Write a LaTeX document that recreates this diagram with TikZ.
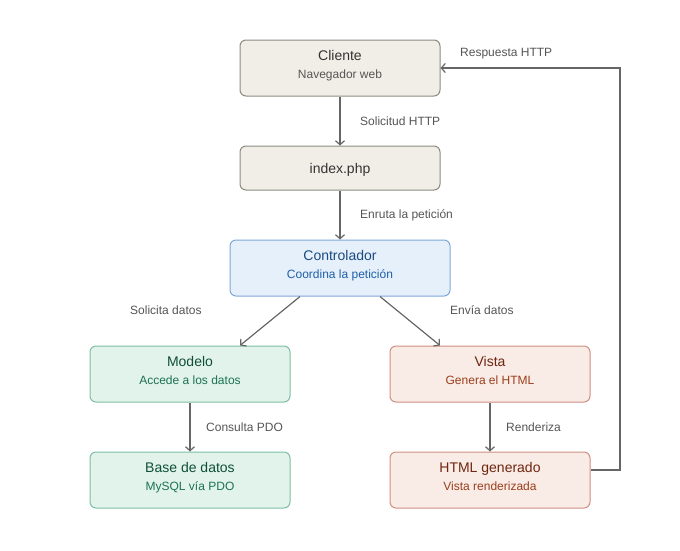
\documentclass[tikz,border=0pt]{standalone}
\usepackage{fontspec}
\setmainfont{Liberation Sans}
\usepackage{xcolor}
\usetikzlibrary{positioning,arrows.meta}
\definecolor{greybg}{HTML}{F1EEE7}
\definecolor{greyln}{HTML}{8C8A80}
\definecolor{greytx}{HTML}{333333}
\definecolor{greysub}{HTML}{555555}
\definecolor{bluebg}{HTML}{E5F0FB}
\definecolor{blueln}{HTML}{7EA7D8}
\definecolor{bluetx}{HTML}{1A4A82}
\definecolor{bluesub}{HTML}{1F5FA8}
\definecolor{greenbg}{HTML}{E2F3EC}
\definecolor{greenln}{HTML}{7DBEA2}
\definecolor{greentx}{HTML}{0E4F38}
\definecolor{greensub}{HTML}{1B7350}
\definecolor{redbg}{HTML}{F9EBE6}
\definecolor{redln}{HTML}{CF9080}
\definecolor{redtx}{HTML}{70260F}
\definecolor{redsub}{HTML}{9C3E1C}
\definecolor{wire}{HTML}{666666}
\newcommand{\boxtitle}[2]{{\fontsize{14}{18}\selectfont\color{#1}#2}}
\newcommand{\boxsub}[2]{{\fontsize{12}{14}\selectfont\color{#1}#2\rule[-7pt]{0pt}{0pt}}}

\begin{document}
\begin{tikzpicture}[x=1pt, y=-1pt, >={Straight Barb[length=4pt,width=9pt]},
  box/.style={draw, line width=1pt, rounded corners=6pt, minimum width=200pt, minimum height=56pt, align=center, inner sep=0pt},
  wide/.style={minimum width=220pt},
  flow/.style={draw=wire, line width=1.2pt, ->},
  lbl/.style={font=\fontsize{12}{14}\selectfont, text=greysub, anchor=west, inner sep=0pt}]
  \useasboundingbox (0,0) rectangle (680,550);

  % Request path
  \node[box, fill=greybg, draw=greyln] (client) at (340, 68) {\boxtitle{greytx}{Cliente}\\[6pt]\boxsub{greysub}{Navegador web}};
  \node[box, fill=greybg, draw=greyln, minimum height=44pt] (index) at (340, 168) {\boxtitle{greytx}{index.php}\rule{0pt}{14pt}};
  \node[box, wide, fill=bluebg, draw=blueln] (ctrl) at (340, 268) {\boxtitle{bluetx}{Controlador}\\[6pt]\boxsub{bluesub}{Coordina la petición}};

  \draw[flow] (client.south) -- (index.north);
  \draw[flow] (index.south) -- (ctrl.north);
  \node[lbl] (reqlbl) at (360, 121) {Solicitud HTTP};
  \node[lbl] (routelbl) at (360, 215) {Enruta la petición};

  % Model side
  \node[box, fill=greenbg, draw=greenln] (model) at (190, 374) {\boxtitle{greentx}{Modelo}\\[6pt]\boxsub{greensub}{Accede a los datos}};
  \node[box, fill=greenbg, draw=greenln] (db) at (190, 480) {\boxtitle{greentx}{Base de datos}\\[6pt]\boxsub{greensub}{MySQL vía PDO}};

  \draw[flow] ([xshift=-40pt]ctrl.south) -- ([xshift=50pt]model.north);
  \draw[flow] (model.south) -- (db.north);
  \node[lbl] (asklbl) at (130, 310) {Solicita datos};
  \node[lbl] (pdolbl) at (206, 427) {Consulta PDO};

  % View side
  \node[box, fill=redbg, draw=redln] (view) at (490, 374) {\boxtitle{redtx}{Vista}\\[6pt]\boxsub{redsub}{Genera el HTML}};
  \node[box, fill=redbg, draw=redln] (html) at (490, 480) {\boxtitle{redtx}{HTML generado}\\[6pt]\boxsub{redsub}{Vista renderizada}};

  \draw[flow] ([xshift=40pt]ctrl.south) -- ([xshift=-50pt]view.north);
  \draw[flow] (view.south) -- (html.north);
  \node[lbl] (sendlbl) at (450, 310) {Envía datos};
  \node[lbl] (renderlbl) at (506, 427) {Renderiza};

  % Response back to client
  \coordinate (turn) at (620, 470);
  \draw[flow] ([yshift=10pt]html.east) -- (turn) |- (client.east);
  \node[lbl] (resplbl) at (460, 54) {Respuesta HTTP};
\end{tikzpicture}
\end{document}
